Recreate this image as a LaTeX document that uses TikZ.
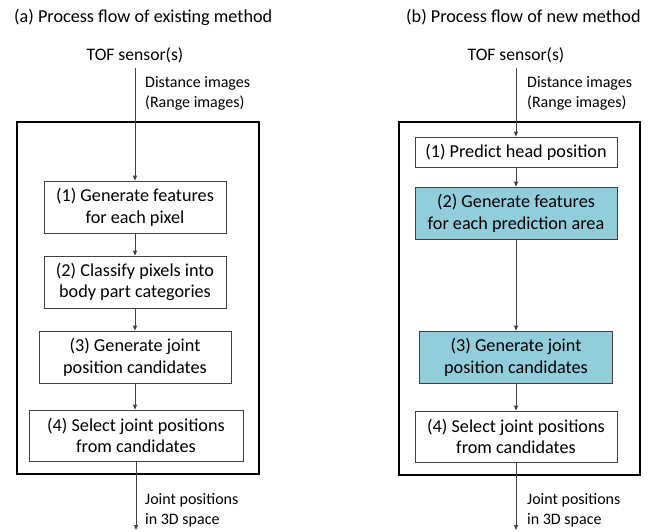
\documentclass[tikz,border=0pt]{standalone}
\usepackage{fontspec}
\setmainfont{Carlito}
\usetikzlibrary{arrows.meta}
\definecolor{boxblue}{RGB}{146,205,220}
\definecolor{linegray}{RGB}{64,64,64}
\tikzset{
  stepbox/.style={draw=linegray, line width=0.8pt, fill=white, align=center, inner sep=0pt, font=\fontsize{18.2}{21.7}\selectfont},
  bluebox/.style={stepbox, fill=boxblue},
  outerbox/.style={draw=black, line width=2pt},
  flow/.style={draw=linegray, line width=0.8pt, -{Triangle[length=5pt,width=4pt]}},
  lbl/.style={anchor=west, align=left, inner sep=0pt, font=\fontsize{16}{20}\selectfont},
  ttl/.style={anchor=west, inner sep=0pt, font=\fontsize{18.2}{20}\selectfont},
  src/.style={inner sep=0pt, font=\fontsize{17.6}{20}\selectfont}
}
\begin{document}
\begin{tikzpicture}[x=1pt,y=-1pt]
\useasboundingbox (0,0) rectangle (657,531);
% ---------- left panel ----------
\node[ttl] (ta) at (14,17) {(a) Process flow of existing method};
\node[src] (sa) at (135,55) {TOF sensor(s)};
\draw[outerbox] (17,122) rectangle (259,474);
\node[stepbox, minimum width=182pt, minimum height=52pt] (a1) at (135,207) {(1) Generate features\\for each pixel};
\node[stepbox, minimum width=182pt, minimum height=52pt] (a2) at (135,282) {(2) Classify pixels into\\body part categories};
\node[stepbox, minimum width=192pt, minimum height=52pt] (a3) at (135,357) {(3) Generate joint\\position candidates};
\node[stepbox, minimum width=214pt, minimum height=51pt] (a4) at (136,435.5) {(4) Select joint positions\\from candidates};
\coordinate (ea) at (136,530);
\coordinate (sa0) at (135,68);
\draw[flow] (sa0) -- (a1.north);
\draw[flow] (a1) -- (a2);
\draw[flow] (a2) -- (a3);
\draw[flow] (a3.south) -- (a4.north -| a3.south);
\draw[flow] (a4.south) -- (ea);
\node[lbl] (la1) at (145,93) {Distance images\\(Range images)};
\node[lbl] (la2) at (145,510) {Joint positions\\in 3D space};
% ---------- right panel ----------
\node[ttl] (tb) at (406,17) {(b) Process flow of new method};
\node[src] (sb) at (516,55) {TOF sensor(s)};
\draw[outerbox] (399,122) rectangle (640,475);
\node[stepbox, minimum width=202pt, minimum height=30pt] (b1) at (516,152) {(1) Predict head position};
\node[bluebox, minimum width=202pt, minimum height=52pt] (b2) at (516,213) {(2) Generate features\\for each prediction area};
\node[bluebox, minimum width=193pt, minimum height=52pt] (b3) at (516,357) {(3) Generate joint\\position candidates};
\node[stepbox, minimum width=202pt, minimum height=51pt] (b4) at (516,436.5) {(4) Select joint positions\\from candidates};
\coordinate (eb) at (516,530);
\coordinate (sb0) at (516,68);
\draw[flow] (sb0) -- (b1.north);
\draw[flow] (b1) -- (b2);
\draw[flow] (b2) -- (b3);
\draw[flow] (b3) -- (b4);
\draw[flow] (b4.south) -- (eb);
\node[lbl] (lb1) at (527,93) {Distance images\\(Range images)};
\node[lbl] (lb2) at (527,510) {Joint positions\\in 3D space};
\end{tikzpicture}
\end{document}
